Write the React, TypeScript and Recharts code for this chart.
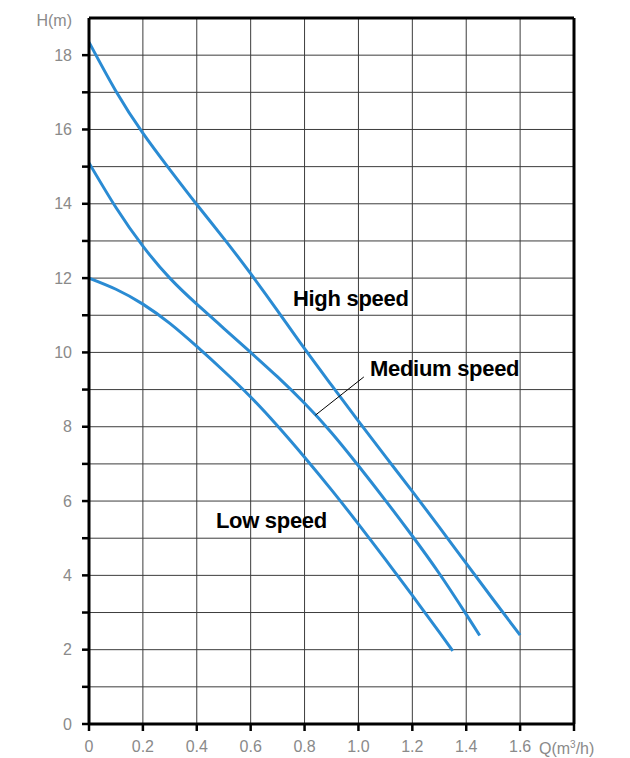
import { LineChart, Line, XAxis, YAxis, CartesianGrid, ReferenceLine, ReferenceDot } from 'recharts';

// Pump curves: head H (m) against flow Q (m³/h)
const highSpeed = [
  { q: 0, h: 18.35 }, { q: 0.1, h: 17.03 }, { q: 0.2, h: 15.9 }, { q: 0.3, h: 14.92 },
  { q: 0.4, h: 13.98 }, { q: 0.5, h: 13.07 }, { q: 0.6, h: 12.12 }, { q: 0.7, h: 11.12 },
  { q: 0.8, h: 10.1 }, { q: 0.9, h: 9.12 }, { q: 1.0, h: 8.15 }, { q: 1.1, h: 7.2 },
  { q: 1.2, h: 6.26 }, { q: 1.3, h: 5.3 }, { q: 1.4, h: 4.32 }, { q: 1.5, h: 3.35 },
  { q: 1.6, h: 2.39 },
];

const mediumSpeed = [
  { q: 0, h: 15.1 }, { q: 0.1, h: 13.9 }, { q: 0.2, h: 12.86 }, { q: 0.3, h: 12.0 },
  { q: 0.4, h: 11.3 }, { q: 0.5, h: 10.65 }, { q: 0.6, h: 10.0 }, { q: 0.7, h: 9.34 },
  { q: 0.8, h: 8.63 }, { q: 0.9, h: 7.84 }, { q: 1.0, h: 6.95 }, { q: 1.1, h: 6.02 },
  { q: 1.2, h: 5.06 }, { q: 1.3, h: 4.05 }, { q: 1.4, h: 2.95 }, { q: 1.45, h: 2.38 },
];

const lowSpeed = [
  { q: 0, h: 12.0 }, { q: 0.1, h: 11.7 }, { q: 0.2, h: 11.3 }, { q: 0.3, h: 10.78 },
  { q: 0.4, h: 10.16 }, { q: 0.5, h: 9.5 }, { q: 0.6, h: 8.8 }, { q: 0.7, h: 8.02 },
  { q: 0.8, h: 7.18 }, { q: 0.9, h: 6.3 }, { q: 1.0, h: 5.38 }, { q: 1.1, h: 4.43 },
  { q: 1.2, h: 3.46 }, { q: 1.3, h: 2.47 }, { q: 1.35, h: 1.97 },
];

const qTicks = [0, 0.2, 0.4, 0.6, 0.8, 1.0, 1.2, 1.4, 1.6, 1.8];
const hTicks = [0, 1, 2, 3, 4, 5, 6, 7, 8, 9, 10, 11, 12, 13, 14, 15, 16, 17, 18];

// curve names, anchored at their left edge / vertical middle
const notes = [
  { q: 0.757, h: 11.46, text: 'High speed' },
  { q: 1.043, h: 9.58, text: 'Medium speed' },
  { q: 0.471, h: 5.49, text: 'Low speed' },
];
const leader = [{ x: 0.84, y: 8.31 }, { x: 1.02, y: 9.34 }];

const BLUE = '#2a8bd3';
const GREY = '#8a8a8a';
const FONT = '"Liberation Sans", Arial, sans-serif';

const fmtQ = (v: number) => (v === 0 ? '0' : v === 1.8 ? '' : v.toFixed(1));
const fmtH = (v: number) => (v % 2 === 0 ? String(v) : '');

export default function App() {
  return (
    <div style={{ position: 'absolute', left: 0, top: 0, background: '#fff' }}>
      <LineChart width={630} height={758} margin={{ top: 18, right: 56, left: 0, bottom: 0 }}>
        <CartesianGrid stroke="#3c3c3c" strokeWidth={1} />
        <XAxis
          type="number" dataKey="q" domain={[0, 1.8]} ticks={qTicks} tickFormatter={fmtQ}
          height={34} tickSize={7} tickMargin={10} allowDataOverflow
          axisLine={{ stroke: '#000', strokeWidth: 3 }} tickLine={{ stroke: '#000', strokeWidth: 2.5 }}
          tick={{ fill: GREY, fontSize: 16, fontFamily: FONT }}
        />
        <YAxis
          type="number" domain={[0, 19]} ticks={hTicks} tickFormatter={fmtH} interval={0}
          width={89} tickSize={7} tickMargin={10} allowDataOverflow
          axisLine={{ stroke: '#000', strokeWidth: 3 }} tickLine={{ stroke: '#000', strokeWidth: 2.5 }}
          tick={{ fill: GREY, fontSize: 16, fontFamily: FONT }}
        />
        <ReferenceLine y={19} stroke="#000" strokeWidth={3} />
        <ReferenceLine x={1.8} stroke="#000" strokeWidth={3} />
        <Line data={highSpeed} dataKey="h" type="natural" stroke={BLUE} strokeWidth={3} dot={false} isAnimationActive={false} />
        <Line data={mediumSpeed} dataKey="h" type="natural" stroke={BLUE} strokeWidth={3} dot={false} isAnimationActive={false} />
        <Line data={lowSpeed} dataKey="h" type="natural" stroke={BLUE} strokeWidth={3} dot={false} isAnimationActive={false} />
        <ReferenceLine segment={leader} stroke="#000" strokeWidth={1} />
        {notes.map(n => (
          <ReferenceDot
            key={n.text} x={n.q} y={n.h} r={0} fill="none" stroke="none"
            label={(p: any) => (
              <text x={p.viewBox.x} y={p.viewBox.y} dy="0.35em" fill="#000" fontSize={22}
                fontWeight="bold" fontFamily={FONT} letterSpacing={-0.3}>
                {n.text}
              </text>
            )}
          />
        ))}
        <text x={72} y={20} dy="0.35em" textAnchor="end" fill={GREY} fontSize={16} fontFamily={FONT}>H(m)</text>
        <text x={539} y={748} dy="0.35em" fill={GREY} fontSize={16} fontFamily={FONT}>
          Q(m<tspan dy="-6" fontSize={10}>3</tspan><tspan dy="6">/h)</tspan>
        </text>
      </LineChart>
    </div>
  );
}
